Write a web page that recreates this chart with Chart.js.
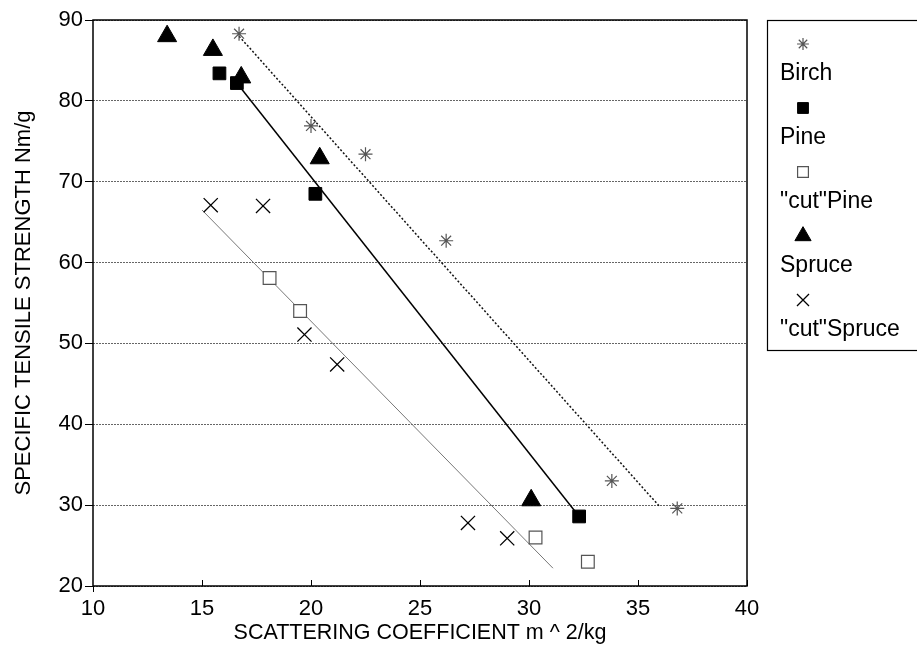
<!DOCTYPE html>
<html>
<head>
<meta charset="utf-8">
<script src="https://cdn.jsdelivr.net/npm/chart.js@4/dist/chart.umd.min.js"></script>
<style>
  html, body { margin: 0; padding: 0; background: #fff; }
  #wrap { width: 917px; height: 655px; }
</style>
</head>
<body>
<div id="wrap"><canvas id="c" width="917" height="655"></canvas></div>
<script>
// values
const birchX = [16.7, 20.0, 22.5, 26.2, 33.8, 36.8];
const birchY = [88.3, 76.9, 73.4, 62.7, 33.0, 29.6];
const pineX = [15.8, 16.6, 20.2, 32.3];
const pineY = [83.4, 82.2, 68.5, 28.6];
const cutPineX = [18.1, 19.5, 30.3, 32.7];
const cutPineY = [58.1, 54.0, 26.0, 23.0];
const spruceX = [13.4, 15.5, 16.8, 20.4, 30.1];
const spruceY = [88.0, 86.3, 82.9, 72.9, 30.6];
const cutSpruceX = [15.4, 17.8, 19.7, 21.2, 27.2, 29.0];
const cutSpruceY = [67.1, 67.0, 51.1, 47.4, 27.8, 25.9];

// fitted lines (end points)
const birchFitX = [16.7, 36.0], birchFitY = [88.0, 29.8];
const pineFitX = [16.6, 32.3], pineFitY = [82.2, 28.6];
const cutFitX = [15.0, 31.1], cutFitY = [66.5, 22.2];

const xTicks = [10, 15, 20, 25, 30, 35, 40];
const yTicks = [20, 30, 40, 50, 60, 70, 80, 90];
const legendNames = ['Birch', 'Pine', '"cut"Pine', 'Spruce', '"cut"Spruce'];

const pts = (xs, ys) => xs.map((x, i) => ({ x, y: ys[i] }));
const FONT = "'Liberation Sans', Arial, Helvetica, sans-serif";

const markers = [
  { pointStyle: 'star', radius: 7, backgroundColor: '#555', borderColor: '#555', borderWidth: 1.2 },
  { pointStyle: 'rect', radius: 9, backgroundColor: '#000', borderColor: '#000', borderWidth: 1 },
  { pointStyle: 'rect', radius: 9, backgroundColor: '#fff', borderColor: '#555', borderWidth: 1.2 },
  { pointStyle: 'triangle', radius: 11, backgroundColor: '#000', borderColor: '#000', borderWidth: 1 },
  { pointStyle: 'crossRot', radius: 10, backgroundColor: '#000', borderColor: '#000', borderWidth: 1.3 }
];
const seriesX = [birchX, pineX, cutPineX, spruceX, cutSpruceX];
const seriesY = [birchY, pineY, cutPineY, spruceY, cutSpruceY];

const fitLine = (xs, ys, color, width, dash) => ({
  type: 'line', data: pts(xs, ys), showLine: true, borderColor: color, borderWidth: width,
  borderDash: dash, pointRadius: 0, fill: false, order: 10
});

const datasets = [
  fitLine(birchFitX, birchFitY, '#111', 1.5, [2, 2]),
  fitLine(pineFitX, pineFitY, '#000', 1.5, []),
  fitLine(cutFitX, cutFitY, '#777', 1, [])
];
legendNames.forEach((name, i) => {
  const m = markers[i];
  datasets.push({
    label: name, data: pts(seriesX[i], seriesY[i]), showLine: false,
    pointStyle: m.pointStyle, pointRadius: m.radius, pointHoverRadius: m.radius,
    pointBackgroundColor: m.backgroundColor, pointBorderColor: m.borderColor,
    pointBorderWidth: m.borderWidth, order: 1
  });
});

// frame, inside x ticks and the side legend
const decor = {
  id: 'decor',
  afterDraw(chart) {
    const { ctx, chartArea: a, scales } = chart;
    ctx.save();
    ctx.strokeStyle = '#000';
    ctx.lineWidth = 1.5;
    ctx.strokeRect(a.left, a.top, a.right - a.left, a.bottom - a.top);
    ctx.lineWidth = 1;
    xTicks.forEach((v, i) => {
      const x = Math.round(scales.x.getPixelForValue(v)) + 0.5;
      ctx.beginPath();
      if (i === 0) { ctx.moveTo(x, a.bottom); ctx.lineTo(x, a.bottom + 6); }
      else { ctx.moveTo(x, a.bottom); ctx.lineTo(x, a.bottom - 6); }
      ctx.stroke();
    });

    // legend box
    const bx = 767.5, by = 20.5, pitch = 64;
    ctx.lineWidth = 1.2;
    ctx.strokeRect(bx, by, 200, 330);
    ctx.font = '23px ' + FONT;
    ctx.fillStyle = '#000';
    ctx.textBaseline = 'middle';
    legendNames.forEach((name, i) => {
      const m = markers[i];
      const my = 44 + i * pitch;
      const opts = { pointStyle: m.pointStyle, radius: m.radius * 0.85, rotation: 0, borderWidth: m.borderWidth };
      ctx.fillStyle = m.backgroundColor;
      ctx.strokeStyle = m.borderColor;
      ctx.lineWidth = m.borderWidth;
      Chart.helpers.drawPoint(ctx, opts, 803, my);
      ctx.fillStyle = '#000';
      ctx.fillText(name, 780, my + 30);
    });
    ctx.restore();
  }
};

new Chart(document.getElementById('c'), {
  type: 'scatter',
  data: { datasets },
  plugins: [decor],
  options: {
    responsive: false,
    animation: false,
    events: [],
    layout: { padding: { left: 0, right: 170, top: 20, bottom: 0 } },
    plugins: { legend: { display: false }, tooltip: { enabled: false } },
    scales: {
      x: {
        type: 'linear', min: 10, max: 40,
        afterBuildTicks: s => { s.ticks = xTicks.map(v => ({ value: v })); },
        afterFit: s => { s.height = 69; },
        grid: { display: false },
        border: { display: false },
        ticks: { color: '#000', padding: 2, font: { family: FONT, size: 22 } },
        title: {
          display: true, text: 'SCATTERING COEFFICIENT m ^ 2/kg', color: '#000',
          font: { family: FONT, size: 21.5 }, padding: { top: 0, bottom: 9 }
        }
      },
      y: {
        type: 'linear', min: 20, max: 90,
        afterBuildTicks: s => { s.ticks = yTicks.map(v => ({ value: v })); },
        afterFit: s => { s.width = 93; },
        grid: { color: '#666', lineWidth: 1, tickColor: '#000', tickLength: 8, tickBorderDash: [] },
        border: { display: false, dash: [2, 1] },
        ticks: { color: '#000', padding: 2, font: { family: FONT, size: 22 } },
        title: {
          display: true, text: 'SPECIFIC TENSILE STRENGTH Nm/g', color: '#000',
          font: { family: FONT, size: 22 }, padding: { top: 11, bottom: 0 }
        }
      }
    }
  }
});
</script>
</body>
</html>
